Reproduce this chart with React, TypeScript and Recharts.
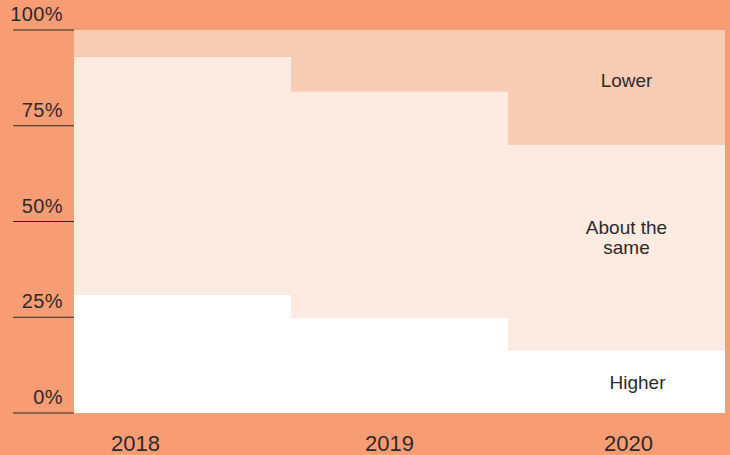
import { Bar, BarChart, LabelList, XAxis, YAxis } from "recharts";

const YEARS = ["2018", "2019", "2020"];
const HIGHER = [31, 25, 16.5];
const ABOUT_SAME = [62, 59, 53.5];
const LOWER = [7, 16, 30];
const Y_TICKS = [0, 25, 50, 75, 100];

const COLORS = {
  bg: "#f89c74",
  higher: "#ffffff",
  same: "#fdeae0",
  lower: "#f9ccb6",
  text: "#2b2b2b",
};

const FONT = '"Liberation Sans", Arial, Helvetica, sans-serif';

// x labels sit a bit off the bar centres in the original
const X_LABEL_SHIFT = [-47, -10, 12];

const data = YEARS.map((year, i) => ({
  year,
  higher: HIGHER[i],
  same: ABOUT_SAME[i],
  lower: LOWER[i],
}));

function YTick(props: any) {
  const { y, payload } = props;
  return (
    <g>
      <line x1={13} x2={74} y1={y} y2={y} stroke={COLORS.text} strokeWidth={1} />
      <text
        x={63}
        y={y - 9}
        textAnchor="end"
        fontSize={20}
        letterSpacing={0.4}
        fill={COLORS.text}
        fontFamily={FONT}
      >
        {payload.value}%
      </text>
    </g>
  );
}

function XTick(props: any) {
  const { x, y, payload, index } = props;
  return (
    <text
      x={x + (X_LABEL_SHIFT[index] ?? 0)}
      y={y + 30}
      textAnchor="middle"
      fontSize={22}
      fill={COLORS.text}
      fontFamily={FONT}
    >
      {payload.value}
    </text>
  );
}

// labels only drawn inside the last (2020) bar
function segmentLabel(lines: string[], dx: number, dy: number) {
  return (props: any) => {
    const { x, y, width, height, index } = props;
    if (index !== YEARS.length - 1) return null;
    const cx = Number(x) + Number(width) / 2 + dx;
    const cy = Number(y) + Number(height) / 2 + dy;
    return (
      <text
        x={cx}
        y={cy}
        textAnchor="middle"
        fontSize={19}
        fill={COLORS.text}
        fontFamily={FONT}
      >
        {lines.map((l, i) => (
          <tspan key={l} x={cx} dy={i === 0 ? 0 : 20}>
            {l}
          </tspan>
        ))}
      </text>
    );
  };
}

export default function App() {
  return (
    <div
      style={{
        position: "fixed",
        left: 0,
        top: 0,
        width: 730,
        height: 455,
        background: COLORS.bg,
      }}
    >
      <BarChart
        width={730}
        height={455}
        data={data}
        barCategoryGap={0}
        margin={{ top: 30, right: 5, bottom: 0, left: 0 }}
      >
        <XAxis
          dataKey="year"
          axisLine={false}
          tickLine={false}
          height={42}
          tick={<XTick />}
        />
        <YAxis
          domain={[0, 100]}
          ticks={Y_TICKS}
          axisLine={false}
          tickLine={false}
          width={74}
          tick={<YTick />}
          interval={0}
        />
        <Bar dataKey="higher" name="Higher" stackId="a" fill={COLORS.higher} isAnimationActive={false}>
          <LabelList dataKey="higher" content={segmentLabel(["Higher"], 21, 8)} />
        </Bar>
        <Bar dataKey="same" name="About the same" stackId="a" fill={COLORS.same} isAnimationActive={false}>
          <LabelList dataKey="same" content={segmentLabel(["About the", "same"], 10, -13)} />
        </Bar>
        <Bar dataKey="lower" name="Lower" stackId="a" fill={COLORS.lower} isAnimationActive={false}>
          <LabelList dataKey="lower" content={segmentLabel(["Lower"], 10, 0)} />
        </Bar>
      </BarChart>
    </div>
  );
}
